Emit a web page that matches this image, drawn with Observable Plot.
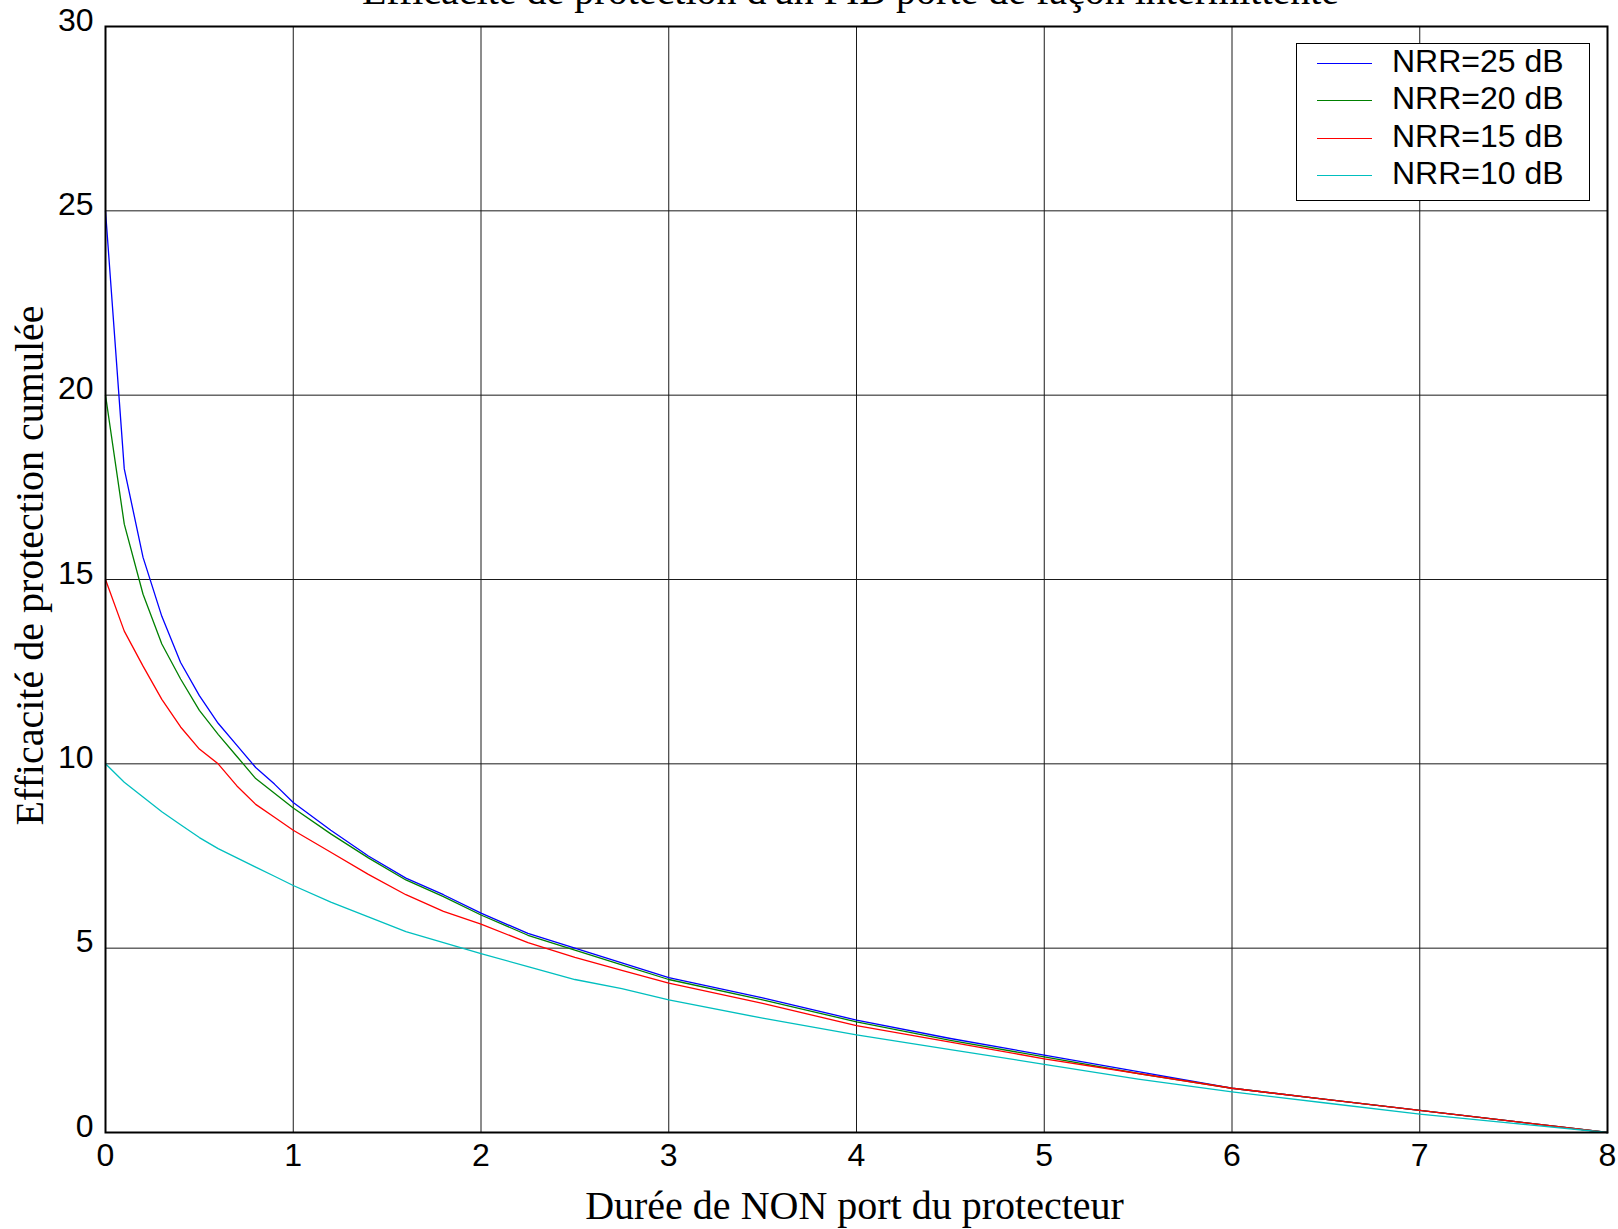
<!DOCTYPE html>
<html>
<head>
<meta charset="utf-8">
<script src="https://cdn.jsdelivr.net/npm/d3@7"></script>
<script src="https://cdn.jsdelivr.net/npm/@observablehq/plot@0.6"></script>
<style>
  html, body { margin: 0; padding: 0; background: #fff; overflow: hidden; }
  #wrap { position: relative; width: 1618px; height: 1229px; }
  #legend {
    position: absolute; left: 1296px; top: 43px; width: 292px; height: 156px;
    border: 1.5px solid #000; background: #fff; box-sizing: content-box;
    font-family: "Liberation Sans", Arial, sans-serif; font-size: 32px; color: #000;
  }
  .row { position: absolute; left: 0; height: 38px; display: flex; align-items: center; }
  .sw { width: 55px; height: 0; border-top: 1.5px solid; margin-left: 20px; margin-right: 20px; }
  .row span { position: relative; top: -2px; white-space: nowrap; }
</style>
</head>
<body>
<div id="wrap"></div>
<script>
// ---- data ----
const titleText = "Efficacité de protection d'un PIB porté de façon intermittente";
const xLabel = "Durée de NON port du protecteur";
const yLabel = "Efficacité de protection cumulée";
const xTicks = [0, 1, 2, 3, 4, 5, 6, 7, 8];
const yTicks = [0, 5, 10, 15, 20, 25, 30];
const seriesNames = ["NRR=25 dB", "NRR=20 dB", "NRR=15 dB", "NRR=10 dB"];
const seriesColors = ["#0000ff", "#008000", "#ff0000", "#00bfbf"];
const xs = [0, 0.1, 0.2, 0.3, 0.4, 0.5, 0.6, 0.7, 0.8, 0.9, 1.0,
            1.2, 1.4, 1.6, 1.8, 2.0, 2.25, 2.5, 2.75, 3.0,
            3.5, 4.0, 4.5, 5.0, 5.5, 6.0, 6.5, 7.0, 7.5, 8.0];
const nrr25 = [25, 18.0, 15.6, 14.0, 12.75, 11.85, 11.1, 10.5, 9.9, 9.45, 8.95,
               8.2, 7.5, 6.9, 6.45, 5.95, 5.4, 5.0, 4.6, 4.2,
               3.65, 3.05, 2.55, 2.1, 1.65, 1.2, 0.9, 0.6, 0.3, 0];
const nrr20 = [20, 16.5, 14.6, 13.25, 12.3, 11.45, 10.8, 10.2, 9.6, 9.2, 8.8,
               8.1, 7.45, 6.85, 6.4, 5.9, 5.35, 4.95, 4.55, 4.15,
               3.6, 3.0, 2.5, 2.05, 1.6, 1.2, 0.9, 0.6, 0.3, 0];
const nrr15 = [15, 13.6, 12.65, 11.75, 11.0, 10.4, 10.0, 9.4, 8.9, 8.55, 8.2,
               7.6, 7.0, 6.45, 6.0, 5.65, 5.15, 4.75, 4.4, 4.05,
               3.5, 2.9, 2.45, 2.0, 1.6, 1.2, 0.9, 0.6, 0.3, 0];
const nrr10 = [10, 9.5, 9.1, 8.7, 8.35, 8.0, 7.7, 7.45, 7.2, 6.95, 6.7,
               6.25, 5.85, 5.45, 5.15, 4.85, 4.5, 4.15, 3.9, 3.6,
               3.1, 2.65, 2.25, 1.85, 1.45, 1.1, 0.8, 0.5, 0.25, 0];
const seriesValues = [nrr25, nrr20, nrr15, nrr10];

// ---- build table ----
const data = [];
seriesNames.forEach((name, i) => {
  xs.forEach((x, j) => data.push({series: name, x, y: seriesValues[i][j]}));
});

const serif = "'Liberation Serif', 'Times New Roman', serif";
const sans = "'Liberation Sans', Arial, sans-serif";

const chart = Plot.plot({
  width: 1618,
  height: 1229,
  marginLeft: 105,
  marginRight: 11,
  marginTop: 26,
  marginBottom: 97,
  style: {fontFamily: sans, fontSize: "32px", color: "#000", background: "#fff", overflow: "visible"},
  x: {domain: [0, 8], ticks: xTicks},
  y: {domain: [0, 30], ticks: yTicks},
  color: {domain: seriesNames, range: seriesColors},
  marks: [
    Plot.gridX(xTicks, {stroke: "#1a1a1a", strokeOpacity: 1, strokeWidth: 1}),
    Plot.gridY(yTicks, {stroke: "#1a1a1a", strokeOpacity: 1, strokeWidth: 1}),
    Plot.line(data, {x: "x", y: "y", z: "series", stroke: "series", strokeWidth: 1.3}),
    Plot.frame({stroke: "#000", strokeWidth: 2}),
    Plot.axisX(xTicks, {tickSize: 0, tickPadding: 11, label: null, fontSize: 32, tickFormat: d => String(d)}),
    Plot.axisY(yTicks, {tickSize: 0, tickPadding: 12, label: null, fontSize: 32, dy: -6, tickFormat: d => String(d)}),
    Plot.text([titleText], {text: d => d, frameAnchor: "top", lineAnchor: "bottom", dy: -23, dx: -6,
      fontFamily: serif, fontSize: 40, fill: "#000"}),
    Plot.text([xLabel], {text: d => d, frameAnchor: "bottom", lineAnchor: "bottom", dy: 86, dx: -2,
      fontFamily: serif, fontSize: 40, fill: "#000"}),
    Plot.text([yLabel], {text: d => d, frameAnchor: "left", textAnchor: "middle", lineAnchor: "middle",
      rotate: -90, dx: -75, dy: -14, fontFamily: serif, fontSize: 40, fill: "#000"})
  ]
});

const wrap = document.getElementById("wrap");
wrap.appendChild(chart);

// ---- legend ----
const legend = document.createElement("div");
legend.id = "legend";
seriesNames.forEach((name, i) => {
  const row = document.createElement("div");
  row.className = "row";
  row.style.top = (i * 37.5) + "px";
  const sw = document.createElement("div");
  sw.className = "sw";
  sw.style.borderTopColor = seriesColors[i];
  const lab = document.createElement("span");
  lab.textContent = name;
  row.appendChild(sw);
  row.appendChild(lab);
  legend.appendChild(row);
});
wrap.appendChild(legend);
</script>
</body>
</html>
